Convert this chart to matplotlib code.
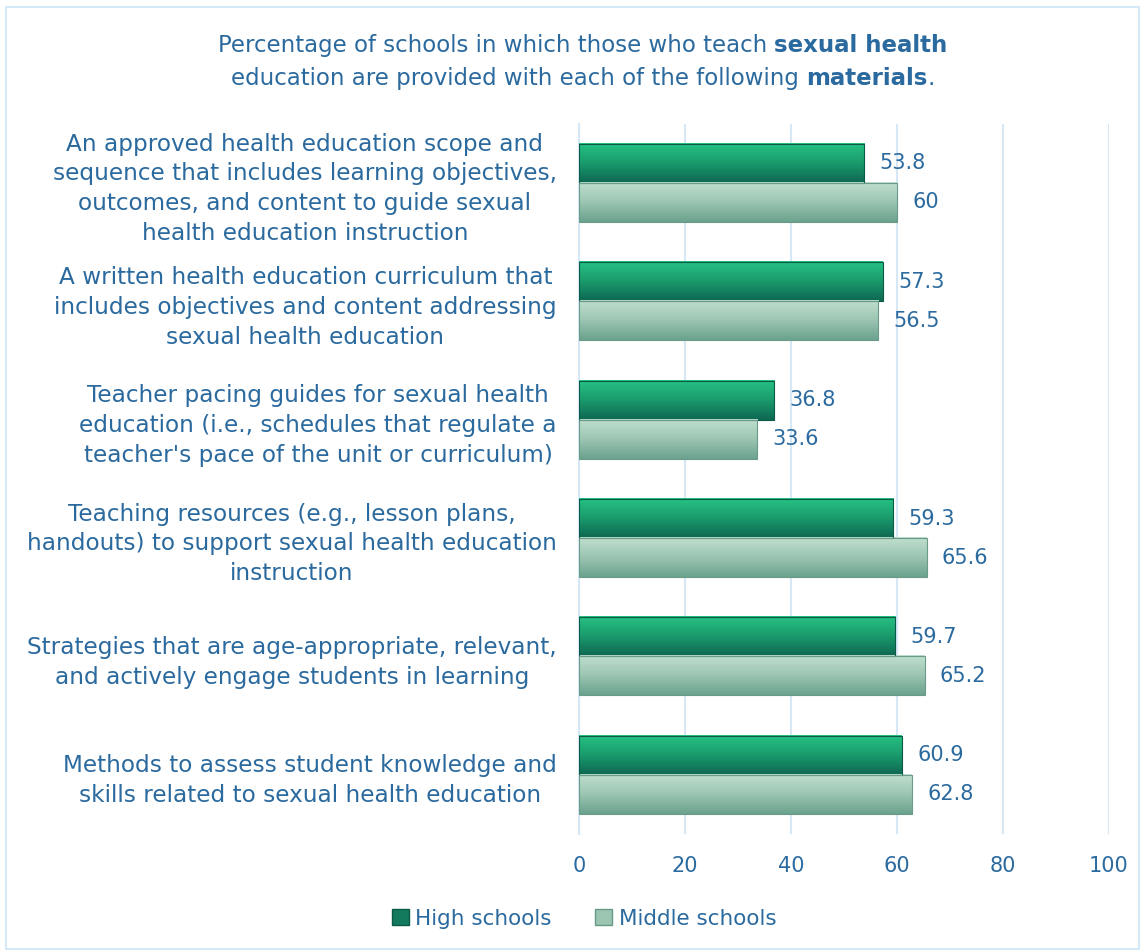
import numpy as np
import matplotlib
matplotlib.use("Agg")
import matplotlib.pyplot as plt
from matplotlib.colors import LinearSegmentedColormap
from matplotlib.patches import Rectangle, Patch

categories = [
    "An approved health education scope and\nsequence that includes learning objectives,\noutcomes, and content to guide sexual\nhealth education instruction",
    "A written health education curriculum that\nincludes objectives and content addressing\nsexual health education",
    "Teacher pacing guides for sexual health\neducation (i.e., schedules that regulate a\nteacher's pace of the unit or curriculum)",
    "Teaching resources (e.g., lesson plans,\nhandouts) to support sexual health education\ninstruction",
    "Strategies that are age-appropriate, relevant,\nand actively engage students in learning",
    "Methods to assess student knowledge and\nskills related to sexual health education",
]
high_schools = [53.8, 57.3, 36.8, 59.3, 59.7, 60.9]
middle_schools = [60, 56.5, 33.6, 65.6, 65.2, 62.8]
series_names = ["High schools", "Middle schools"]
xticks = [0, 20, 40, 60, 80, 100]

TXT = "#2B6A9E"
GRID = "#D6E7F5"
high_cmap = LinearSegmentedColormap.from_list("hi", ["#0E6852", "#1A9A6C", "#27C283"])
mid_cmap = LinearSegmentedColormap.from_list("mid", ["#6BA38E", "#9CC5B2", "#C0DFCF"])

fig = plt.figure(figsize=(11.45, 9.52), dpi=100)
ax = fig.add_axes([0.5057, 0.124, 0.4629, 0.746])

n = len(categories)
ypos = np.arange(n)
bh = 0.33
grad = np.linspace(0, 1, 64).reshape(-1, 1)

for i in range(n):
    for val, cmap, off, edge in [(high_schools[i], high_cmap, -bh / 2, "#0B5A47"),
                                 (middle_schools[i], mid_cmap, bh / 2, "#6A9A88")]:
        y0 = ypos[i] + off - bh / 2
        y1 = ypos[i] + off + bh / 2
        # top of the bar is the lighter colour (y axis is inverted)
        ax.imshow(grad[::-1], cmap=cmap, aspect="auto", extent=(0, val, y1, y0),
                  zorder=3, interpolation="bilinear")
        ax.add_patch(Rectangle((0, y0), val, bh, fill=False, edgecolor=edge,
                               linewidth=0.8, zorder=4))
        ax.annotate(f"{val:g}", (val, ypos[i] + off), xytext=(11, 0),
                    textcoords="offset points", va="center", ha="left",
                    fontsize=15, color=TXT)

ax.set_xlim(0, 100)
ax.set_ylim(n - 0.5, -0.5)
ax.set_xticks(xticks)
ax.set_xticklabels([str(t) for t in xticks], fontsize=15, color=TXT)
ax.set_yticks(ypos)
ax.set_yticklabels(categories, fontsize=16.7, color=TXT, multialignment="center",
                   linespacing=1.38)
ax.tick_params(axis="both", length=0)
ax.tick_params(axis="y", pad=16)
ax.tick_params(axis="x", pad=16)
ax.grid(axis="x", color=GRID, linewidth=1.5, zorder=0)
ax.set_axisbelow(True)
for s in ["top", "right", "bottom"]:
    ax.spines[s].set_visible(False)
ax.spines["left"].set_color(GRID)
ax.spines["left"].set_linewidth(1.5)

# title with bold words, built piece by piece
fig.canvas.draw()
renderer = fig.canvas.get_renderer()
title_lines = [
    [("Percentage of schools in which those who teach ", "normal"), ("sexual health", "bold")],
    [("education are provided with each of the following ", "normal"), ("materials", "bold"), (".", "normal")],
]
for line, yy in zip(title_lines, [0.952, 0.918]):
    pieces = []
    for s, w in line:
        t = fig.text(0, yy, s, fontsize=16.5, fontweight=w, color=TXT, va="center", ha="left")
        pieces.append(t)
    widths = [p.get_window_extent(renderer).width / fig.bbox.width for p in pieces]
    x = 0.509 - sum(widths) / 2
    for p, wd in zip(pieces, widths):
        p.set_x(x)
        x += wd

handles = [Patch(facecolor="#137A5E", edgecolor="#0B5A47"),
           Patch(facecolor="#9CC5B2", edgecolor="#6A9A88")]
fig.legend(handles, series_names, loc="center", bbox_to_anchor=(0.51, 0.035), ncol=2,
           frameon=False, fontsize=15.5, labelcolor=TXT, handlelength=0.8,
           handleheight=0.8, handletextpad=0.3, columnspacing=2.0)

fig.add_artist(Rectangle((0.005, 0.003), 0.99, 0.99, transform=fig.transFigure,
                         fill=False, edgecolor="#D5E8F7", linewidth=1.5))

fig.savefig("out.png", dpi=100)
